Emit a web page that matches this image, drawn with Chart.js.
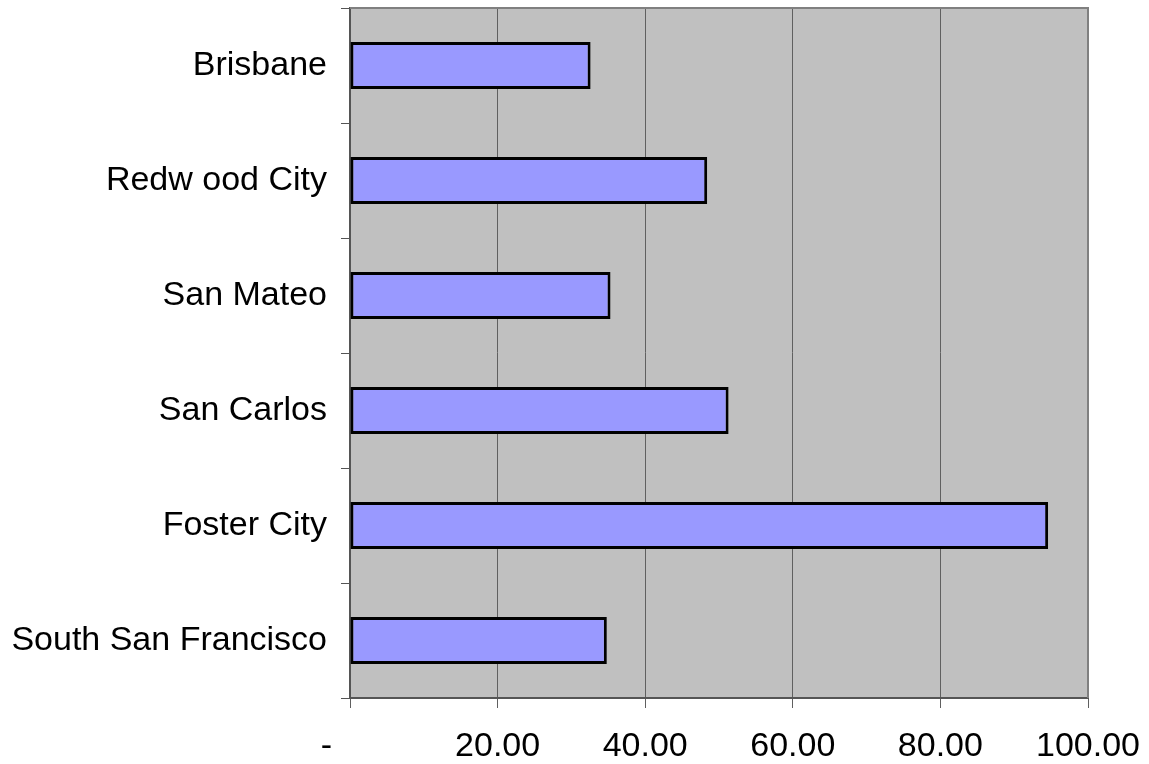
<!DOCTYPE html>
<html>
<head>
<meta charset="utf-8">
<script src="https://cdn.jsdelivr.net/npm/chart.js@4"></script>
<style>
  html, body { margin: 0; padding: 0; background: #fff; }
  #wrap { width: 1149px; height: 764px; }
</style>
</head>
<body>
<div id="wrap"><canvas id="barChart" width="1149" height="764"></canvas></div>
<script>
  // chart data
  const cities = ['Brisbane', 'Redw ood City', 'San Mateo', 'San Carlos', 'Foster City', 'South San Francisco'];
  const values = [32.6, 48.4, 35.3, 51.3, 94.6, 34.8];
  const xTicks = [0, 20, 40, 60, 80, 100];

  // gray plot area with a thin border on top and right
  const plotBackground = {
    id: 'plotBackground',
    beforeDraw(chart) {
      const a = chart.chartArea;
      const ctx = chart.ctx;
      ctx.save();
      ctx.fillStyle = '#c0c0c0';
      ctx.fillRect(a.left, a.top, a.right - a.left, a.bottom - a.top);
      ctx.restore();
    },
    afterDatasetsDraw(chart) {
      const a = chart.chartArea;
      const ctx = chart.ctx;
      ctx.save();
      ctx.strokeStyle = '#808080';
      ctx.lineWidth = 2;
      ctx.beginPath();
      ctx.moveTo(a.left, a.top);
      ctx.lineTo(a.right, a.top);
      ctx.lineTo(a.right, a.bottom);
      ctx.stroke();
      ctx.restore();
    }
  };

  const labelFont = { family: '"Liberation Sans", Arial, sans-serif', size: 34 };

  new Chart(document.getElementById('barChart').getContext('2d'), {
    type: 'bar',
    data: {
      labels: cities,
      datasets: [{
        data: values,
        backgroundColor: '#9999ff',
        borderColor: '#000000',
        borderWidth: 3,
        borderSkipped: false,
        barPercentage: 0.41,
        categoryPercentage: 1.0
      }]
    },
    options: {
      indexAxis: 'y',
      responsive: false,
      animation: false,
      layout: { padding: { top: 8, right: 61, bottom: 0, left: 0 } },
      plugins: { legend: { display: false }, tooltip: { enabled: false } },
      scales: {
        x: {
          min: 0,
          max: 100,
          afterBuildTicks: s => { s.ticks = xTicks.map(v => ({ value: v })); },
          afterFit: s => { s.height = 66; s.paddingLeft = 0; s.paddingRight = 0; },
          ticks: {
            color: '#000',
            font: labelFont,
            padding: 18,
            maxRotation: 0,
            callback: v => v === 0 ? '-     ' : v.toFixed(2)
          },
          grid: { color: '#606060', lineWidth: 1, tickLength: 10 },
          border: { color: '#555', width: 2 }
        },
        y: {
          afterFit: s => { s.width = 350; s.paddingTop = 0; s.paddingBottom = 0; },
          ticks: { color: '#000', font: labelFont, padding: 14 },
          grid: { offset: true, drawOnChartArea: false, tickLength: 9, color: '#555' },
          border: { color: '#555', width: 2 }
        }
      }
    },
    plugins: [plotBackground]
  });
</script>
</body>
</html>
